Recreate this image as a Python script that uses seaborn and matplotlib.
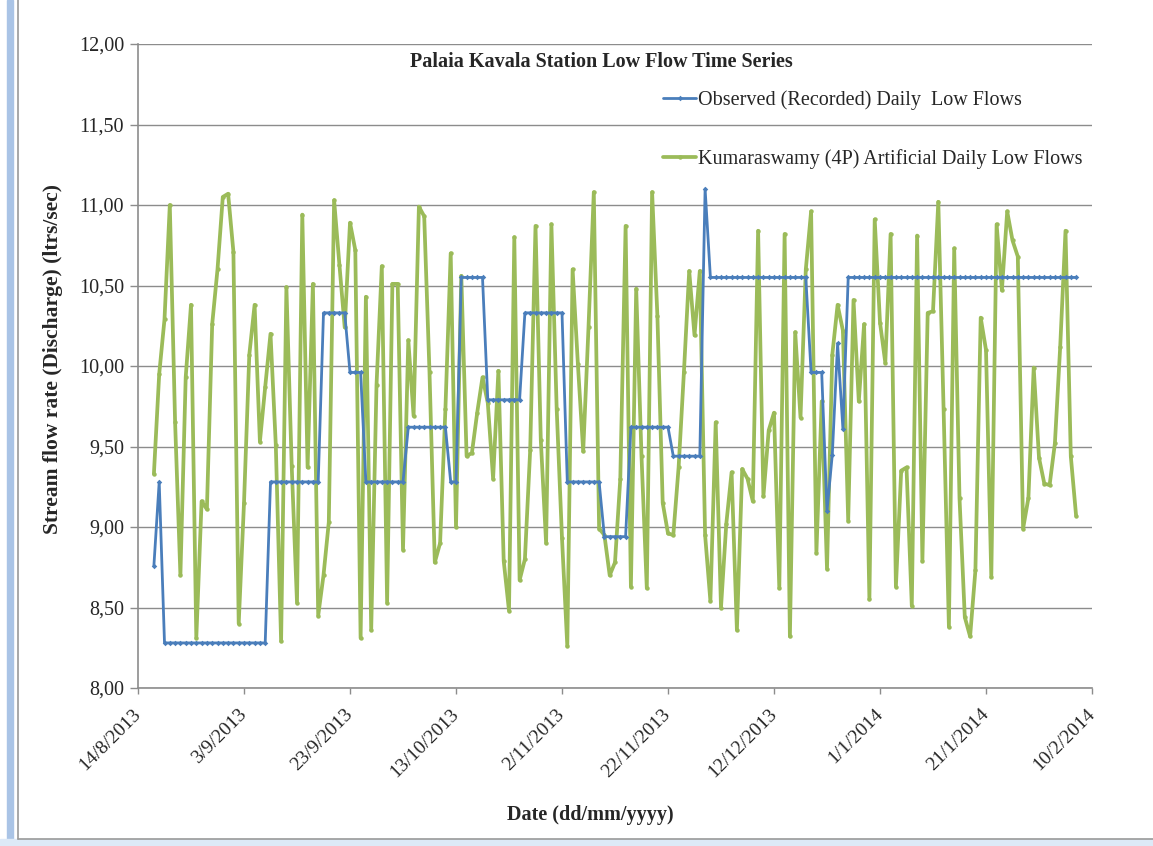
import pandas as pd
import matplotlib.pyplot as plt
import matplotlib.patches as mpatches
from matplotlib.ticker import FuncFormatter
import seaborn as sns

# first recorded day of both series
start_date = '2013-08-17'

# Observed (Recorded) Daily Low Flows, one value per day
observed = [
    8.76, 9.28,
    8.28, 8.28, 8.28, 8.28, 8.28, 8.28, 8.28, 8.28, 8.28, 8.28,
    8.28, 8.28, 8.28, 8.28, 8.28, 8.28, 8.28, 8.28, 8.28, 8.28,
    9.28, 9.28, 9.28, 9.28, 9.28, 9.28, 9.28, 9.28, 9.28, 9.28,
    10.33, 10.33, 10.33, 10.33, 10.33,
    9.96, 9.96, 9.96,
    9.28, 9.28, 9.28, 9.28, 9.28, 9.28, 9.28, 9.28,
    9.62, 9.62, 9.62, 9.62, 9.62, 9.62, 9.62, 9.62,
    9.28, 9.28,
    10.55, 10.55, 10.55, 10.55, 10.55,
    9.79, 9.79, 9.79, 9.79, 9.79, 9.79, 9.79,
    10.33, 10.33, 10.33, 10.33, 10.33, 10.33, 10.33, 10.33,
    9.28, 9.28, 9.28, 9.28, 9.28, 9.28, 9.28,
    8.94, 8.94, 8.94, 8.94, 8.94,
    9.62, 9.62, 9.62, 9.62, 9.62, 9.62, 9.62, 9.62,
    9.44, 9.44, 9.44, 9.44, 9.44, 9.44,
    11.10,
    10.55, 10.55, 10.55, 10.55, 10.55, 10.55, 10.55, 10.55, 10.55, 10.55,
    10.55, 10.55, 10.55, 10.55, 10.55, 10.55, 10.55, 10.55, 10.55,
    9.96, 9.96, 9.96,
    9.10, 9.45, 10.14, 9.61,
    10.55, 10.55, 10.55, 10.55, 10.55, 10.55, 10.55, 10.55, 10.55, 10.55,
    10.55, 10.55, 10.55, 10.55, 10.55, 10.55, 10.55, 10.55, 10.55, 10.55,
    10.55, 10.55, 10.55, 10.55, 10.55, 10.55, 10.55, 10.55, 10.55, 10.55,
    10.55, 10.55, 10.55, 10.55, 10.55, 10.55, 10.55, 10.55, 10.55, 10.55,
    10.55, 10.55, 10.55, 10.55,
]

# Kumaraswamy (4P) Artificial Daily Low Flows, one value per day
artificial = [
    9.33, 9.95, 10.29, 11.00, 9.65, 8.70, 9.93, 10.38, 8.31, 9.16,
    9.11, 10.26, 10.60, 11.05, 11.07, 10.71, 8.40, 9.15, 10.07, 10.38,
    9.53, 9.87, 10.20, 9.51, 8.29, 10.49, 9.38, 8.53,
    10.94, 9.37, 10.51, 8.45, 8.70, 9.03, 11.03, 10.63, 10.24, 10.89,
    10.72, 8.31, 10.43, 8.36, 9.88, 10.62, 8.53, 10.51, 10.51, 8.86,
    10.16, 9.69, 10.99, 10.93, 9.96, 8.78, 8.90, 9.73, 10.70, 9.00,
    10.56, 9.44, 9.46, 9.71, 9.93, 9.77, 9.30, 9.97, 8.79, 8.48,
    10.80, 8.67, 8.80, 9.48, 10.87, 9.54, 8.90, 10.88, 9.73, 8.93,
    8.26, 10.60, 10.01, 9.47, 10.24, 11.08, 8.99, 8.95,
    8.70, 8.78, 9.30, 10.87, 8.63, 10.48, 9.44, 8.62, 11.08, 10.31,
    9.15, 8.96, 8.95, 9.37, 9.96, 10.59, 10.19, 10.59, 8.95, 8.54,
    9.65, 8.50, 9.02, 9.34, 8.36, 9.36, 9.30, 9.16, 10.84, 9.19,
    9.60, 9.71,
    8.62, 10.82, 8.32, 10.21, 9.68, 10.60, 10.96, 8.84, 9.78, 8.74,
    10.07, 10.38, 10.22, 9.04, 10.41, 9.78, 10.26, 8.55, 10.91, 10.27,
    10.02, 10.82, 8.63, 9.35, 9.37, 8.51, 10.81, 8.79, 10.33, 10.34,
    11.02,
    9.73, 8.38, 10.73, 9.18, 8.44, 8.32, 8.73, 10.30, 10.10, 8.69,
    10.88, 10.47, 10.96, 10.78, 10.68, 8.99, 9.18, 9.99, 9.43, 9.27,
    9.26, 9.52, 10.12, 10.84, 9.44, 9.07,
]

tick_labels = ['14/8/2013', '3/9/2013', '23/9/2013', '13/10/2013', '2/11/2013',
               '22/11/2013', '12/12/2013', '1/1/2014', '21/1/2014', '10/2/2014']
y_ticks = [8.0, 8.5, 9.0, 9.5, 10.0, 10.5, 11.0, 11.5, 12.0]

dates = pd.date_range(start_date, periods=len(artificial), freq='D')
df = pd.DataFrame({'date': dates, 'observed': observed, 'artificial': artificial})
tick_dates = pd.to_datetime(tick_labels, format='%d/%m/%Y')

sns.set_theme(style='white')
plt.rcParams['font.family'] = ['Liberation Serif', 'DejaVu Serif']

fig = plt.figure(figsize=(11.53, 8.46), dpi=100)
ax = fig.add_axes([138 / 1153, 1 - 688 / 846, (1092 - 138) / 1153, (688 - 44) / 846])

blue = '#4a7ebb'
green = '#9bbb59'

sns.lineplot(data=df, x='date', y='artificial', ax=ax, color=green, linewidth=2.7,
             marker='o', markersize=3.2, markeredgewidth=0,
             label='Kumaraswamy (4P) Artificial Daily Low Flows', zorder=3)
sns.lineplot(data=df, x='date', y='observed', ax=ax, color=blue, linewidth=2.0,
             marker='D', markersize=2.8, markeredgewidth=0,
             label='Observed (Recorded) Daily  Low Flows', zorder=4)

ax.set_xlim(tick_dates[0], tick_dates[-1])
ax.set_ylim(8, 12)
ax.set_xticks(tick_dates)
ax.set_xticklabels(tick_labels, rotation=45, ha='right', va='center',
                   rotation_mode='anchor', fontsize=14)
ax.set_yticks(y_ticks)
ax.yaxis.set_major_formatter(FuncFormatter(lambda v, p: f'{v:.2f}'.replace('.', ',')))
ax.tick_params(axis='y', labelsize=14.5, length=6, width=1, color='#8c8c8c', direction='out', left=True, pad=4)
ax.tick_params(axis='x', length=4, width=1, color='#8c8c8c', direction='out', bottom=True, pad=13)
ax.grid(axis='y', color='#8c8c8c', linewidth=1)
ax.grid(axis='x', visible=False)
for side in ['top', 'right']:
    ax.spines[side].set_visible(False)
for side in ['left', 'bottom']:
    ax.spines[side].set_color('#8c8c8c')
    ax.spines[side].set_linewidth(1.2)
ax.set_xlabel('')
ax.set_ylabel('')

handles, labels = ax.get_legend_handles_labels()
ax.legend(handles[::-1], labels[::-1], loc='upper left', bbox_to_anchor=(0.542, 0.94),
          frameon=False, fontsize=14.5, labelspacing=1.9, handlelength=1.65,
          handletextpad=0.1, borderaxespad=0)

ax.text(0.486, 0.972, 'Palaia Kavala Station Low Flow Time Series', transform=ax.transAxes,
        ha='center', va='center', fontsize=14.5, fontweight='bold')
fig.text(53 / 1153, 1 - 359 / 846, 'Stream flow rate (Discharge) (ltrs/sec)', rotation=90,
         ha='center', va='center', fontsize=15.5, fontweight='bold')
fig.text(590 / 1153, 1 - 815 / 846, 'Date (dd/mm/yyyy)', ha='center', va='center',
         fontsize=14.5, fontweight='bold')

# screenshot frame around the chart
fig.patches.append(mpatches.Rectangle((7 / 1153, 0), 6 / 1153, 1, transform=fig.transFigure,
                                      color='#aac4e6', zorder=0))
fig.patches.append(mpatches.Rectangle((0, 0), 1, 7 / 846, transform=fig.transFigure,
                                      color='#dde9f7', zorder=0))
fig.lines.append(plt.Line2D([18 / 1153, 18 / 1153], [7 / 846, 1], transform=fig.transFigure,
                            color='#9a9a9a', linewidth=1.2))
fig.lines.append(plt.Line2D([18 / 1153, 1], [7 / 846, 7 / 846], transform=fig.transFigure,
                            color='#9a9a9a', linewidth=1.2))

fig.savefig('out.png', dpi=100)
